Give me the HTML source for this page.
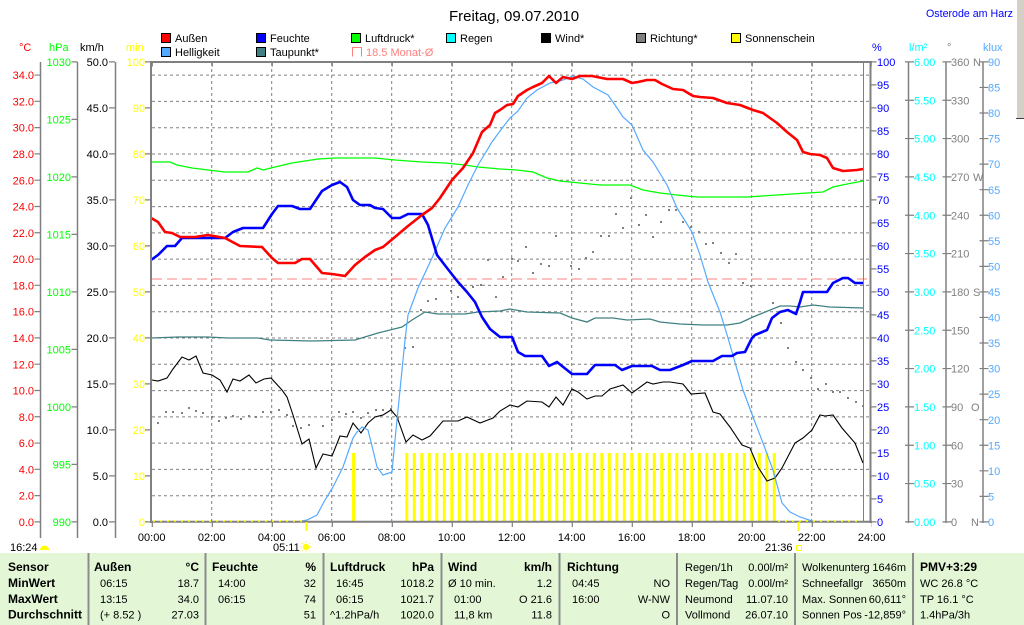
<!DOCTYPE html>
<html><head><meta charset="utf-8"><style>
html,body{margin:0;padding:0;background:#fff;}
svg{display:block;}
text{font-family:"Liberation Sans",sans-serif;}
</style></head><body>
<svg xmlns="http://www.w3.org/2000/svg" width="1024" height="625" viewBox="0 0 1024 625">
<rect x="0" y="0" width="1024" height="625" fill="#fff"/>
<!-- scrollbar -->
<rect x="1016" y="0" width="8" height="119" fill="#d4d0c8"/>
<line x1="1016.5" y1="0" x2="1016.5" y2="118" stroke="#fff"/>
<line x1="1016" y1="118.5" x2="1024" y2="118.5" stroke="#404040"/>

<!-- title -->
<text x="514" y="21" font-size="15" text-anchor="middle" fill="#000">Freitag, 09.07.2010</text>
<text x="926" y="17" font-size="11" fill="#0000ff" textLength="87" lengthAdjust="spacingAndGlyphs">Osterode am Harz</text>

<!-- legend -->
<g font-size="11">
<rect x="161.5" y="33.5" width="9" height="9" fill="#ff0000" stroke="#000"/><text x="175" y="42" fill="#000">Außen</text>
<rect x="256.5" y="33.5" width="9" height="9" fill="#0000ff" stroke="#000"/><text x="270" y="42" fill="#000">Feuchte</text>
<rect x="351.5" y="33.5" width="9" height="9" fill="#00ff00" stroke="#000"/><text x="365" y="42" fill="#000">Luftdruck*</text>
<rect x="446.5" y="33.5" width="9" height="9" fill="#00ffff" stroke="#000"/><text x="460" y="42" fill="#000">Regen</text>
<rect x="541.5" y="33.5" width="9" height="9" fill="#000" stroke="#000"/><text x="555" y="42" fill="#000">Wind*</text>
<rect x="636.5" y="33.5" width="9" height="9" fill="#808080" stroke="#000"/><text x="650" y="42" fill="#000">Richtung*</text>
<rect x="731.5" y="33.5" width="9" height="9" fill="#ffff00" stroke="#000"/><text x="745" y="42" fill="#000">Sonnenschein</text>
<rect x="161.5" y="47.5" width="9" height="9" fill="#55aaff" stroke="#000"/><text x="175" y="56" fill="#000">Helligkeit</text>
<rect x="256.5" y="47.5" width="9" height="9" fill="#408080" stroke="#000"/><text x="270" y="56" fill="#000">Taupunkt*</text>
<path d="M352.5 56.5 V47.5 H361.5 V56.5" fill="none" stroke="#ff8080"/>
<text x="366" y="56" fill="#ff8080">18.5 Monat-Ø</text>
</g>

<!-- axis headers -->
<g font-size="11">
<text x="19" y="51" fill="#ff0000">°C</text>
<text x="49" y="51" fill="#00ff00">hPa</text>
<text x="80" y="51" fill="#000">km/h</text>
<text x="126" y="51" fill="#ffff00">min</text>
<text x="872" y="51" fill="#0000ff">%</text>
<text x="909" y="51" fill="#00ffff">l/m²</text>
<text x="947" y="51" fill="#808080">°</text>
<text x="983" y="51" fill="#55aaff">klux</text>
</g>

<!-- grid -->
<g stroke="#808080" stroke-width="1" stroke-dasharray="3 3" fill="none">
<path d="M152 495.7H870M152 469.4H870M152 443.1H870M152 416.9H870M152 390.6H870M152 364.3H870M152 338H870M152 311.7H870M152 285.4H870M152 259.1H870M152 232.9H870M152 206.6H870M152 180.3H870M152 154H870M152 127.7H870M152 101.4H870M152 75.1H870"/>
<path d="M211.7 63V521M271.7 63V521M331.7 63V521M391.7 63V521M451.7 63V521M511.7 63V521M571.7 63V521M631.7 63V521M691.7 63V521M751.7 63V521M811.7 63V521"/>
</g>

<!-- left axes lines -->
<g stroke="#808080" stroke-width="1.5" fill="none">
<path d="M40.5 62V538M77.5 62V538M115.5 62V538"/>
<path d="M908.5 62V523M946 62V523M983 62V523"/>
</g>
<!-- ticks via dash arrays -->
<g fill="none" stroke="#808080">
<line x1="37.5" y1="522.5" x2="37.5" y2="60" stroke-width="6" stroke-dasharray="1.2 25.086"/>
<line x1="74.5" y1="522.5" x2="74.5" y2="60" stroke-width="6" stroke-dasharray="1.2 56.3"/>
<line x1="112" y1="522.5" x2="112" y2="60" stroke-width="6" stroke-dasharray="1.2 44.8"/>
<line x1="148" y1="522.5" x2="148" y2="60" stroke-width="6" stroke-dasharray="1.2 44.8"/>
<line x1="873.5" y1="522.5" x2="873.5" y2="60" stroke-width="6" stroke-dasharray="1.2 21.8"/>
<line x1="909.5" y1="522.5" x2="909.5" y2="60" stroke-width="9" stroke-dasharray="1.2 37.133"/>
<line x1="947" y1="522.5" x2="947" y2="60" stroke-width="9" stroke-dasharray="1.2 37.133"/>
<line x1="984" y1="522.5" x2="984" y2="60" stroke-width="9" stroke-dasharray="1.2 24.356"/>
<line x1="151" y1="524.5" x2="872" y2="524.5" stroke-width="5" stroke-dasharray="1.2 58.8" stroke-dashoffset="-0.7"/>
<line x1="151" y1="64.5" x2="872" y2="64.5" stroke-width="4" stroke-dasharray="1.2 58.8" stroke-dashoffset="-0.7"/>
</g>

<!-- left axis labels -->
<g font-size="11" fill="#ff0000" text-anchor="end">
<text x="34" y="526">0.0</text><text x="34" y="499.7">2.0</text><text x="34" y="473.4">4.0</text><text x="34" y="447.1">6.0</text><text x="34" y="420.9">8.0</text><text x="34" y="394.6">10.0</text><text x="34" y="368.3">12.0</text><text x="34" y="342">14.0</text><text x="34" y="315.7">16.0</text><text x="34" y="289.4">18.0</text><text x="34" y="263.1">20.0</text><text x="34" y="236.9">22.0</text><text x="34" y="210.6">24.0</text><text x="34" y="184.3">26.0</text><text x="34" y="158">28.0</text><text x="34" y="131.7">30.0</text><text x="34" y="105.4">32.0</text><text x="34" y="79.1">34.0</text>
</g>
<g font-size="11" fill="#00ff00" text-anchor="end">
<text x="71" y="526">990</text><text x="71" y="468.5">995</text><text x="71" y="411">1000</text><text x="71" y="353.5">1005</text><text x="71" y="296">1010</text><text x="71" y="238.5">1015</text><text x="71" y="181">1020</text><text x="71" y="123.5">1025</text><text x="71" y="66">1030</text>
</g>
<g font-size="11" fill="#000" text-anchor="end">
<text x="108" y="526">0.0</text><text x="108" y="480">5.0</text><text x="108" y="434">10.0</text><text x="108" y="388">15.0</text><text x="108" y="342">20.0</text><text x="108" y="296">25.0</text><text x="108" y="250">30.0</text><text x="108" y="204">35.0</text><text x="108" y="158">40.0</text><text x="108" y="112">45.0</text><text x="108" y="66">50.0</text>
</g>
<g font-size="11" fill="#ffff00" text-anchor="end">
<text x="145" y="526">0</text><text x="145" y="480">10</text><text x="145" y="434">20</text><text x="145" y="388">30</text><text x="145" y="342">40</text><text x="145" y="296">50</text><text x="145" y="250">60</text><text x="145" y="204">70</text><text x="145" y="158">80</text><text x="145" y="112">90</text><text x="145" y="66">100</text>
</g>

<!-- right axis labels -->
<g font-size="11" fill="#0000ff">
<text x="877" y="526">0</text><text x="877" y="503">5</text><text x="877" y="480">10</text><text x="877" y="457">15</text><text x="877" y="434">20</text><text x="877" y="411">25</text><text x="877" y="388">30</text><text x="877" y="365">35</text><text x="877" y="342">40</text><text x="877" y="319">45</text><text x="877" y="296">50</text><text x="877" y="273">55</text><text x="877" y="250">60</text><text x="877" y="227">65</text><text x="877" y="204">70</text><text x="877" y="181">75</text><text x="877" y="158">80</text><text x="877" y="135">85</text><text x="877" y="112">90</text><text x="877" y="89">95</text><text x="877" y="66">100</text>
</g>
<g font-size="11" fill="#00ffff">
<text x="914" y="526">0.00</text><text x="914" y="487.7">0.50</text><text x="914" y="449.3">1.00</text><text x="914" y="411">1.50</text><text x="914" y="372.7">2.00</text><text x="914" y="334.3">2.50</text><text x="914" y="296">3.00</text><text x="914" y="257.7">3.50</text><text x="914" y="219.3">4.00</text><text x="914" y="181">4.50</text><text x="914" y="142.7">5.00</text><text x="914" y="104.3">5.50</text><text x="914" y="66">6.00</text>
</g>
<g font-size="11" fill="#808080">
<text x="951" y="526">0</text><text x="971" y="526">N</text>
<text x="951" y="487.7">30</text><text x="951" y="449.3">60</text>
<text x="951" y="411">90</text><text x="971" y="411">O</text>
<text x="951" y="372.7">120</text><text x="951" y="334.3">150</text>
<text x="951" y="296">180</text><text x="973" y="296">S</text>
<text x="951" y="257.7">210</text><text x="951" y="219.3">240</text>
<text x="951" y="181">270</text><text x="973" y="181">W</text>
<text x="951" y="142.7">300</text><text x="951" y="104.3">330</text>
<text x="951" y="66">360</text><text x="973" y="66">N</text>
</g>
<g font-size="11" fill="#55aaff">
<text x="988" y="526">0</text><text x="988" y="500.4">5</text><text x="988" y="474.9">10</text><text x="988" y="449.3">15</text><text x="988" y="423.8">20</text><text x="988" y="398.2">25</text><text x="988" y="372.7">30</text><text x="988" y="347.1">35</text><text x="988" y="321.6">40</text><text x="988" y="296">45</text><text x="988" y="270.4">50</text><text x="988" y="244.9">55</text><text x="988" y="219.3">60</text><text x="988" y="193.8">65</text><text x="988" y="168.2">70</text><text x="988" y="142.7">75</text><text x="988" y="117.1">80</text><text x="988" y="91.6">85</text><text x="988" y="66">90</text>
</g>

<!-- x labels -->
<g font-size="11" fill="#000" text-anchor="middle">
<text x="151.7" y="541">00:00</text><text x="211.7" y="541">02:00</text><text x="271.7" y="541">04:00</text><text x="331.7" y="541">06:00</text><text x="391.7" y="541">08:00</text><text x="451.7" y="541">10:00</text><text x="511.7" y="541">12:00</text><text x="571.7" y="541">14:00</text><text x="631.7" y="541">16:00</text><text x="691.7" y="541">18:00</text><text x="751.7" y="541">20:00</text><text x="811.7" y="541">22:00</text><text x="871.7" y="541">24:00</text>
</g>

<!-- sunshine bars -->
<g fill="#ffff00">
<rect x="352" y="453" width="3" height="69"/>
<rect x="405.3" y="453" width="3" height="69"/><rect x="412.8" y="453" width="3" height="69"/><rect x="420.3" y="453" width="3" height="69"/><rect x="427.8" y="453" width="3" height="69"/><rect x="435.3" y="453" width="3" height="69"/><rect x="442.8" y="453" width="3" height="69"/><rect x="450.3" y="453" width="3" height="69"/><rect x="457.8" y="453" width="3" height="69"/><rect x="465.3" y="453" width="3" height="69"/><rect x="472.8" y="453" width="3" height="69"/>
<rect x="480.3" y="453" width="3" height="69"/><rect x="487.8" y="453" width="3" height="69"/><rect x="495.3" y="453" width="3" height="69"/><rect x="502.8" y="453" width="3" height="69"/><rect x="510.3" y="453" width="3" height="69"/><rect x="517.8" y="453" width="3" height="69"/><rect x="525.3" y="453" width="3" height="69"/><rect x="532.8" y="453" width="3" height="69"/><rect x="540.3" y="453" width="3" height="69"/><rect x="547.8" y="453" width="3" height="69"/>
<rect x="555.3" y="453" width="3" height="69"/><rect x="562.8" y="453" width="3" height="69"/><rect x="570.3" y="453" width="3" height="69"/><rect x="577.8" y="453" width="3" height="69"/><rect x="585.3" y="453" width="3" height="69"/><rect x="592.8" y="453" width="3" height="69"/><rect x="600.3" y="453" width="3" height="69"/><rect x="607.8" y="453" width="3" height="69"/><rect x="615.3" y="453" width="3" height="69"/><rect x="622.8" y="453" width="3" height="69"/>
<rect x="630.3" y="453" width="3" height="69"/><rect x="637.8" y="453" width="3" height="69"/><rect x="645.3" y="453" width="3" height="69"/><rect x="652.8" y="453" width="3" height="69"/><rect x="660.3" y="453" width="3" height="69"/><rect x="667.8" y="453" width="3" height="69"/><rect x="675.3" y="453" width="3" height="69"/><rect x="682.8" y="453" width="3" height="69"/><rect x="690.3" y="453" width="3" height="69"/><rect x="697.8" y="453" width="3" height="69"/>
<rect x="705.3" y="453" width="3" height="69"/><rect x="712.8" y="453" width="3" height="69"/><rect x="720.3" y="453" width="3" height="69"/><rect x="727.8" y="453" width="3" height="69"/><rect x="735.3" y="453" width="3" height="69"/><rect x="742.8" y="453" width="3" height="69"/><rect x="750.3" y="453" width="3" height="69"/><rect x="757.8" y="453" width="3" height="69"/><rect x="765.3" y="453" width="3" height="69"/><rect x="772.8" y="453" width="3" height="69"/>
</g>

<!-- monthly avg -->
<line x1="152" y1="279" x2="870" y2="279" stroke="#ff8080" stroke-width="1" stroke-dasharray="10 5"/>

<!-- Richtung dots -->
<g fill="#808080">
<rect x="157" y="422" width="2" height="2"/><rect x="165" y="411" width="2" height="2"/><rect x="172" y="411" width="2" height="2"/><rect x="181" y="412" width="2" height="2"/><rect x="188" y="407" width="2" height="2"/><rect x="195" y="410" width="2" height="2"/><rect x="202" y="412" width="2" height="2"/><rect x="211" y="416" width="2" height="2"/><rect x="218" y="420" width="2" height="2"/><rect x="225" y="417" width="2" height="2"/><rect x="232" y="415" width="2" height="2"/><rect x="240" y="418" width="2" height="2"/><rect x="248" y="415" width="2" height="2"/><rect x="255" y="416" width="2" height="2"/><rect x="262" y="411" width="2" height="2"/><rect x="270" y="411" width="2" height="2"/><rect x="278" y="409" width="2" height="2"/><rect x="286" y="414" width="2" height="2"/><rect x="292" y="425" width="2" height="2"/><rect x="300" y="427" width="2" height="2"/><rect x="308" y="424" width="2" height="2"/><rect x="322" y="425" width="2" height="2"/><rect x="331" y="419" width="2" height="2"/><rect x="338" y="411" width="2" height="2"/><rect x="345" y="413" width="2" height="2"/><rect x="352" y="411" width="2" height="2"/><rect x="360" y="417" width="2" height="2"/><rect x="367" y="412" width="2" height="2"/><rect x="375" y="409" width="2" height="2"/><rect x="382" y="409" width="2" height="2"/><rect x="390" y="408" width="2" height="2"/><rect x="397" y="417" width="2" height="2"/>
<rect x="404" y="347" width="2" height="2"/><rect x="412" y="346" width="2" height="2"/><rect x="420" y="309" width="2" height="2"/><rect x="427" y="300" width="2" height="2"/><rect x="435" y="298" width="2" height="2"/><rect x="450" y="290" width="2" height="2"/><rect x="457" y="296" width="2" height="2"/><rect x="466" y="291" width="2" height="2"/><rect x="472" y="286" width="2" height="2"/><rect x="480" y="284" width="2" height="2"/><rect x="487" y="259" width="2" height="2"/><rect x="495" y="296" width="2" height="2"/><rect x="502" y="276" width="2" height="2"/><rect x="511" y="258" width="2" height="2"/><rect x="517" y="260" width="2" height="2"/><rect x="525" y="246" width="2" height="2"/><rect x="532" y="272" width="2" height="2"/><rect x="540" y="263" width="2" height="2"/><rect x="548" y="265" width="2" height="2"/><rect x="555" y="235" width="2" height="2"/><rect x="570" y="265" width="2" height="2"/><rect x="578" y="268" width="2" height="2"/><rect x="585" y="257" width="2" height="2"/><rect x="592" y="251" width="2" height="2"/><rect x="600" y="235" width="2" height="2"/><rect x="608" y="235" width="2" height="2"/><rect x="615" y="213" width="2" height="2"/><rect x="622" y="227" width="2" height="2"/><rect x="630" y="197" width="2" height="2"/><rect x="638" y="224" width="2" height="2"/><rect x="645" y="214" width="2" height="2"/><rect x="652" y="236" width="2" height="2"/><rect x="660" y="221" width="2" height="2"/><rect x="668" y="209" width="2" height="2"/><rect x="675" y="209" width="2" height="2"/><rect x="682" y="221" width="2" height="2"/><rect x="690" y="226" width="2" height="2"/><rect x="698" y="231" width="2" height="2"/><rect x="705" y="243" width="2" height="2"/><rect x="712" y="242" width="2" height="2"/><rect x="720" y="252" width="2" height="2"/><rect x="728" y="262" width="2" height="2"/><rect x="735" y="253" width="2" height="2"/><rect x="742" y="282" width="2" height="2"/><rect x="750" y="285" width="2" height="2"/><rect x="772" y="302" width="2" height="2"/><rect x="780" y="322" width="2" height="2"/><rect x="787" y="347" width="2" height="2"/><rect x="795" y="361" width="2" height="2"/><rect x="802" y="369" width="2" height="2"/><rect x="810" y="377" width="2" height="2"/><rect x="817" y="388" width="2" height="2"/><rect x="825" y="383" width="2" height="2"/><rect x="832" y="391" width="2" height="2"/><rect x="839" y="391" width="2" height="2"/><rect x="847" y="397" width="2" height="2"/><rect x="855" y="401" width="2" height="2"/><rect x="862" y="405" width="2" height="2"/>
</g>

<!-- Taupunkt -->
<polyline fill="none" stroke="#408080" stroke-width="1.3" points="151,338 178,337 208,337 228,338 258,338 270,340 312,341 355,340 378,333 402,327 412,320 425,312 438,314 465,314 478,312 500,311 510,309 527,312 560,313 572,318 587,322 595,318 613,318 627,320 650,319 660,322 680,324 703,325 727,325 740,323 753,317 780,306 790,306 800,307 813,305 830,307 863,308"/>
<!-- Luftdruck -->
<polyline fill="none" stroke="#00ff00" stroke-width="1.3" points="151,162 170,162 177,165 192,168 208,170 225,172 248,172 257,168 263,170 275,167 292,163 318,159 335,158 375,158 395,160 422,162 445,163 465,165 478,167 500,169 517,170 533,172 547,178 560,181 580,183 600,185 630,185 643,190 660,193 677,195 697,197 747,197 777,195 807,193 823,192 833,187 847,184 863,181"/>
<!-- Wind -->
<polyline fill="none" stroke="#000" stroke-width="1.1" points="152,380 158,381 167,378 173,369 182,357 189,360 196,356 203,373 212,375 220,380 227,392 233,379 240,381 249,375 256,383 264,379 271,378 282,390 287,397 293,415 302,444 309,439 316,468 323,454 332,456 340,436 347,437 353,423 361,433 368,423 375,417 383,415 391,410 397,417 406,442 413,435 422,440 430,436 437,428 443,421 458,421 467,417 480,423 493,418 500,411 510,405 518,407 527,401 542,402 549,407 556,397 563,405 572,389 578,392 587,399 595,396 602,396 610,389 623,385 632,393 647,382 653,384 663,382 670,382 683,384 691,394 705,393 713,412 720,414 730,427 742,445 750,448 758,467 767,481 775,478 782,468 795,443 803,438 812,430 820,415 825,416 833,415 842,428 855,443 863,463"/>
<!-- Helligkeit -->
<polyline fill="none" stroke="#55aaff" stroke-width="1.2" points="297,522 307,520 317,515 325,500 333,487 343,467 353,438 357,432 362,427 368,430 373,450 377,467 383,475 392,472 395,440 400,390 405,340 408,315 418,288 432,258 445,228 458,207 468,185 478,165 492,142 500,131 510,118 518,111 527,98 537,90 550,83 563,80 573,76 583,79 593,87 608,95 615,105 623,117 632,125 643,150 653,162 667,185 677,208 692,232 700,255 708,282 720,312 728,338 743,390 753,417 763,443 773,470 782,503 790,512 800,517 812,521 820,522"/>
<!-- Feuchte -->
<polyline fill="none" stroke="#0000ff" stroke-width="2.6" stroke-linejoin="round" points="151,260 158,255 167,246 175,246 182,238 225,238 233,232 243,228 263,228 272,214 278,206 292,206 300,209 310,209 322,191 332,185 340,182 347,187 353,200 360,205 370,205 375,208 383,209 392,218 400,218 408,214 422,214 428,225 437,255 447,268 458,282 467,292 475,302 482,317 490,329 500,337 512,337 518,352 525,356 542,356 549,366 557,362 572,374 587,374 595,365 615,365 622,370 632,366 652,366 660,370 670,370 683,365 692,361 713,361 722,356 732,356 737,353 745,352 752,338 755,335 767,330 772,318 780,312 788,310 792,312 796,314 800,302 803,292 827,292 833,283 843,278 848,278 855,283 863,283"/>
<!-- Außen -->
<polyline fill="none" stroke="#ff0000" stroke-width="2.6" stroke-linejoin="round" points="151,218 158,222 165,232 172,233 180,237 195,237 208,235 225,238 240,246 262,247 272,258 278,263 295,263 302,259 310,259 322,273 332,274 345,276 355,265 365,257 375,250 383,247 395,237 408,226 422,215 432,208 440,198 452,180 463,168 473,153 482,132 490,125 495,113 500,110 507,105 513,104 518,96 527,90 533,87 542,83 549,76 556,83 563,77 572,79 580,76 592,76 607,79 623,79 632,83 638,82 647,80 655,80 662,84 673,89 683,90 693,96 700,97 713,98 727,103 740,105 753,110 763,113 777,123 787,132 797,140 803,152 810,154 820,155 827,158 833,168 843,171 857,170 863,169"/>

<!-- plot frame -->
<g stroke="#808080" fill="none">
<line x1="150" y1="62" x2="872" y2="62" stroke-width="2"/>
<line x1="151" y1="61" x2="151" y2="523" stroke-width="2"/>
<line x1="150" y1="521.7" x2="872" y2="521.7" stroke-width="2"/>
<line x1="870.5" y1="61" x2="870.5" y2="523" stroke-width="2"/>
<line x1="863.5" y1="62" x2="863.5" y2="522" stroke-width="1"/>
</g>
<g stroke="#ffff00" stroke-width="1.5" stroke-dasharray="2 5" fill="none">
<line x1="153" y1="521" x2="304" y2="521"/>
<line x1="778" y1="521" x2="862" y2="521"/>
</g>

<!-- sunrise/sunset markers -->
<line x1="306.5" y1="522" x2="306.5" y2="531" stroke="#ffff00" stroke-width="2"/>
<line x1="798.5" y1="522" x2="798.5" y2="531" stroke="#ffff00" stroke-width="2"/>
<g font-size="11" fill="#000">
<text x="10" y="551">16:24</text>
<text x="273" y="551">05:11</text>
<text x="765" y="551">21:36</text>
</g>
<path d="M40 550 A4.5 4.5 0 0 1 49 550 Z" fill="#ffff00"/>
<circle cx="306" cy="547" r="3.2" fill="#ffff00"/>
<g stroke="#ffee55" stroke-width="1">
<path d="M306 541.5V543M306 551V552.5M300.5 547H302M310 547H311.5M302 543L303 544M309 550L310 551M302 551L303 550M309 544L310 543"/>
</g>
<rect x="796.5" y="545.5" width="5" height="5" fill="none" stroke="#ffff00"/>

<!-- table -->
<rect x="0" y="553" width="1024" height="72" fill="#e3f7d7"/>
<g stroke="#8c8c8c" stroke-width="2">
<path d="M88.5 553V625M205.5 553V625M323.5 553V625M441.5 553V625M559.5 553V625M677 553V625M795 553V625M913 553V625"/>
</g>
<g font-size="12" font-weight="bold" fill="#000">
<text x="8" y="571">Sensor</text>
<text x="8" y="587">MinWert</text>
<text x="8" y="603">MaxWert</text>
<text x="8" y="618.5">Durchschnitt</text>
<text x="94" y="571">Außen</text><text x="199" y="571" text-anchor="end">°C</text>
<text x="212" y="571">Feuchte</text><text x="316" y="571" text-anchor="end">%</text>
<text x="330" y="571">Luftdruck</text><text x="434" y="571" text-anchor="end">hPa</text>
<text x="448" y="571">Wind</text><text x="552" y="571" text-anchor="end">km/h</text>
<text x="567" y="571">Richtung</text>
<text x="920" y="571">PMV+3:29</text>
</g>
<g font-size="11" fill="#000">
<text x="100" y="587">06:15</text><text x="199" y="587" text-anchor="end">18.7</text>
<text x="100" y="603">13:15</text><text x="199" y="603" text-anchor="end">34.0</text>
<text x="100" y="618.5">(+ 8.52 )</text><text x="199" y="618.5" text-anchor="end">27.03</text>
<text x="218" y="587">14:00</text><text x="316" y="587" text-anchor="end">32</text>
<text x="218" y="603">06:15</text><text x="316" y="603" text-anchor="end">74</text>
<text x="316" y="618.5" text-anchor="end">51</text>
<text x="336" y="587">16:45</text><text x="434" y="587" text-anchor="end">1018.2</text>
<text x="336" y="603">06:15</text><text x="434" y="603" text-anchor="end">1021.7</text>
<text x="330" y="618.5">^1.2hPa/h</text><text x="434" y="618.5" text-anchor="end">1020.0</text>
<text x="448" y="587">Ø 10 min.</text><text x="552" y="587" text-anchor="end">1.2</text>
<text x="454" y="603">01:00</text><text x="552" y="603" text-anchor="end">O 21.6</text>
<text x="454" y="618.5">11,8 km</text><text x="552" y="618.5" text-anchor="end">11.8</text>
<text x="572" y="587">04:45</text><text x="670" y="587" text-anchor="end">NO</text>
<text x="572" y="603">16:00</text><text x="670" y="603" text-anchor="end">W-NW</text>
<text x="670" y="618.5" text-anchor="end">O</text>
<text x="685" y="571">Regen/1h</text><text x="788" y="571" text-anchor="end">0.00l/m²</text>
<text x="685" y="587">Regen/Tag</text><text x="788" y="587" text-anchor="end">0.00l/m²</text>
<text x="685" y="603">Neumond</text><text x="788" y="603" text-anchor="end">11.07.10</text>
<text x="685" y="618.5">Vollmond</text><text x="788" y="618.5" text-anchor="end">26.07.10</text>
<text x="802" y="571">Wolkenunterg</text><text x="906" y="571" text-anchor="end">1646m</text>
<text x="802" y="587">Schneefallgr</text><text x="906" y="587" text-anchor="end">3650m</text>
<text x="802" y="603">Max. Sonnen</text><text x="906" y="603" text-anchor="end">60,611°</text>
<text x="802" y="618.5">Sonnen Pos</text><text x="906" y="618.5" text-anchor="end">-12,859°</text>
<text x="920" y="587">WC 26.8 °C</text>
<text x="920" y="603">TP 16.1 °C</text>
<text x="920" y="618.5">1.4hPa/3h</text>
</g>
</svg>
</body></html>
